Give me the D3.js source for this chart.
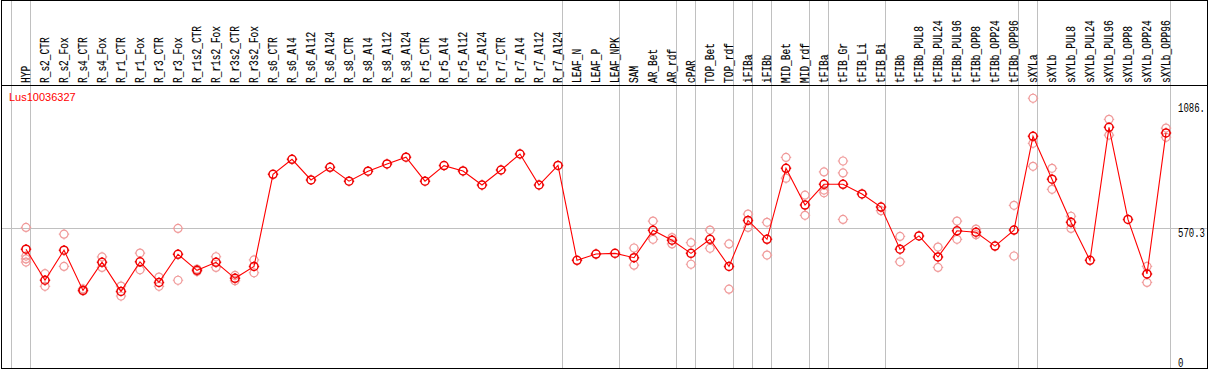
<!DOCTYPE html>
<html>
<head>
<meta charset="utf-8">
<script src="https://cdn.jsdelivr.net/npm/d3@7"></script>
<style>
html,body{margin:0;padding:0;background:#fff;}
svg{display:block;}
</style>
</head>
<body>
<svg id="chart" width="1209" height="370"></svg>
<script>
const title = "Lus10036327";
const categories = ["HYP","R_s2_CTR","R_s2_Fox","R_s4_CTR","R_s4_Fox","R_r1_CTR","R_r1_Fox","R_r3_CTR","R_r3_Fox","R_r1s2_CTR","R_r1s2_Fox","R_r3s2_CTR","R_r3s2_Fox","R_s6_CTR","R_s6_Al4","R_s6_Al12","R_s6_Al24","R_s8_CTR","R_s8_Al4","R_s8_Al12","R_s8_Al24","R_r5_CTR","R_r5_Al4","R_r5_Al12","R_r5_Al24","R_r7_CTR","R_r7_Al4","R_r7_Al12","R_r7_Al24","LEAF_N","LEAF_P","LEAF_NPK","SAM","AR_Bet","AR_rdf","cPAR","TOP_Bet","TOP_rdf","iFIBa","iFIBb","MID_Bet","MID_rdf","tFIBa","tFIB_Gr","tFIB_Li","tFIB_Bi","tFIBb","tFIBb_PUL8","tFIBb_PUL24","tFIBb_PUL96","tFIBb_OPP8","tFIBb_OPP24","tFIBb_OPP96","sXYLa","sXYLb","sXYLb_PUL8","sXYLb_PUL24","sXYLb_PUL96","sXYLb_OPP8","sXYLb_OPP24","sXYLb_OPP96"];
const means = [484,356,480,314,430,310,432,347,463,397,430,364,413,793,855,770,822,765,806,836,864,765,829,807,749,811,877,749,830,438,464,467,449,562,521,467,525,413,603,525,818,666,752,752,712,658,484,539,452,560,554,497,563,950,773,595,438,987,607,382,964];
const replicates = [[574,456,444,431],[383,331],[546,413],[320,312],[452,409],[332,291],[468,399],[369,331],[570,356],[402,392],[453,409],[376,354],[440,387],[],[],[],[],[],[],[],[],[],[],[],[],[],[],[],[],[],[],[],[489,418],[600,525],[532,506],[511,422],[563,488],[506,319],[629,574],[595,460],[863,777],[707,624],[803,728,717],[848,799,607],[],[643],[537,432],[],[493,409],[600,525],[567,544],[],[665,456],[1107,921,826],[818,731],[620,570],[],[1020,955],[],[413,347],[984,946]];
const groupSizes = [1,28,3,3,1,2,1,1,2,1,3,7,1,7];
const tickValues = [0,570.3,1086.2];
const tickLabels = ["0","570.3","1086."];
const gridValues = [570.3];

const svg = d3.select("#chart");
const x = d3.scalePoint().domain(categories).range([26,1166]);
const y = d3.scaleLinear().domain([0,1086.2]).range([366.5,103.3]);
const step = x.step();
const crisp = v => Math.floor(v)+0.5;

// group separator lines
const bounds = [-1];
let acc = -1;
groupSizes.forEach(s => { acc += s; bounds.push(acc); });
svg.append("g").selectAll("line").data(bounds).join("line")
  .attr("x1", d => crisp(x(categories[0]) + d*step + 4.5))
  .attr("x2", d => crisp(x(categories[0]) + d*step + 4.5))
  .attr("y1", 0).attr("y2", 368)
  .attr("stroke", "#c0c0c0").attr("stroke-width", 1);

// horizontal grid
svg.append("g").selectAll("line").data(gridValues).join("line")
  .attr("x1", 1).attr("x2", 1207)
  .attr("y1", d => crisp(y(d))).attr("y2", d => crisp(y(d)))
  .attr("stroke", "#c0c0c0").attr("stroke-width", 1);

// header separator
svg.append("line").attr("x1",1).attr("x2",1207).attr("y1",85.5).attr("y2",85.5).attr("stroke","#000");

// column labels
svg.append("g").selectAll("text").data(categories).join("text")
  .attr("transform", d => `translate(${x(d)+4},83) rotate(-90)`)
  .attr("font-family", "Liberation Mono, monospace")
  .attr("font-size", 12)
  .attr("textLength", d => d.length*5.7)
  .attr("lengthAdjust", "spacingAndGlyphs")
  .attr("fill", "#000")
  .attr("stroke", "#000").attr("stroke-width", 0.15)
  .text(d => d);

// title
svg.append("text").attr("x", 9).attr("y", 101)
  .attr("font-family", "Liberation Sans, Arial, sans-serif").attr("font-size", 11)
  .attr("fill", "#ff0000").text(title);

// y axis labels
const axis = d3.axisRight(y).tickValues(tickValues).tickFormat((d,i) => tickLabels[i]).tickSize(0).tickPadding(2);
const ag = svg.append("g").attr("transform", "translate(1176,0)").call(axis);
ag.select(".domain").remove();
ag.selectAll("text")
  .attr("font-family", "Liberation Mono, monospace").attr("font-size", 12)
  .attr("fill", "#000")
  .attr("dy", (d,i) => i === 0 ? "-0.3px" : "8.6px")
  .attr("textLength", (d,i) => tickLabels[i].length*5.4)
  .attr("lengthAdjust", "spacingAndGlyphs");

// marker path
const r = 4;
const markerPath = `M${-r},0a${r},${r} 0 1,0 ${2*r},0a${r},${r} 0 1,0 ${-2*r},0` +
  `M0,${-r}v-1.2M0,${r}v1.2M${-r},0h-1.2M${r},0h1.2`;

// replicates
const repData = [];
replicates.forEach((arr,i) => arr.forEach(v => repData.push({c: categories[i], v})));
svg.append("g").selectAll("path").data(repData).join("path")
  .attr("d", markerPath)
  .attr("transform", d => `translate(${x(d.c)},${y(d.v)})`)
  .attr("fill", "none").attr("stroke", "#f09a9a").attr("stroke-width", 1.2);

// mean line
const line = d3.line().x((d,i) => x(categories[i])).y(d => y(d));
svg.append("path").datum(means).attr("d", line)
  .attr("fill", "none").attr("stroke", "#ff0000").attr("stroke-width", 1.1);

// mean markers
svg.append("g").selectAll("path").data(means).join("path")
  .attr("d", markerPath)
  .attr("transform", (d,i) => `translate(${x(categories[i])},${y(d)})`)
  .attr("fill", "none").attr("stroke", "#ee0000").attr("stroke-width", 1.5);

// border
svg.append("rect").attr("x",1.5).attr("y",0.5).attr("width",1206).attr("height",368)
  .attr("fill","none").attr("stroke","#000");
</script>
</body>
</html>
